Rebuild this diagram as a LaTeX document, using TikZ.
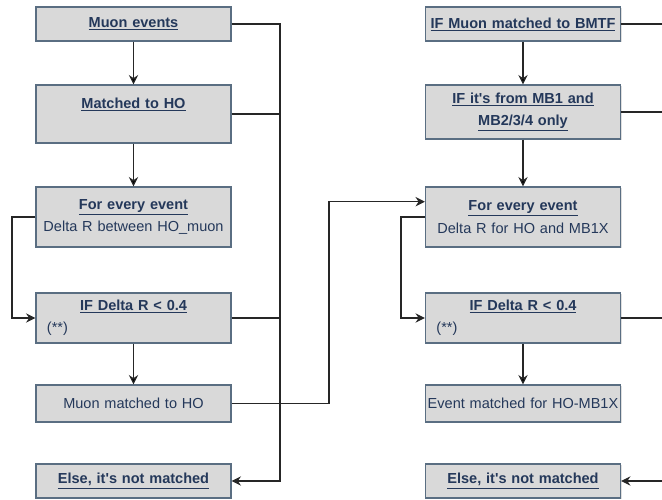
\documentclass[tikz,border=0pt]{standalone}
\usepackage{fontspec}
\setmainfont{Liberation Sans}
\usepackage{tikz}
\usetikzlibrary{arrows.meta}
\usetikzlibrary{calc, shadows}

\definecolor{boxfill}{HTML}{D9D9D9}
\definecolor{boxline}{HTML}{5A6E82}
\definecolor{boxtext}{HTML}{24385A}

\newcommand{\hd}[1]{\underline{\textbf{#1}}}
\newcommand{\aps}{\textquotesingle}

\tikzset{
    stepbox/.style={rectangle, draw=boxline, fill=boxfill, line width=1pt,
        text=boxtext, align=center, text width=5.85cm, inner xsep=0pt,
        minimum width=5.85cm,
        font=\fontsize{12.4}{19}\selectfont,
        drop shadow={shadow xshift=1.2pt, shadow yshift=-1.2pt, opacity=0.25}},
    link/.style={draw=black!85, line width=1pt},
    arr/.style={link, -{Stealth[length=8pt, width=8pt]}}
}

\begin{document}
\begin{tikzpicture}[x=0.03cm, y=-0.03cm]
\useasboundingbox (0,0) rectangle (662,500);
\begin{scope}
    % left column
    \node[stepbox, minimum height=1.02cm] (me) at (133.5,24) {\hd{Muon events}};
    \node[stepbox, minimum height=1.74cm] (mh) at (133.5,114) {\hd{Matched to HO}\\ \mbox{}};
    \node[stepbox, minimum height=1.8cm] (fe) at (133.5,217) {\hd{For every event}\\ Delta R between HO\_muon};
    \node[stepbox, minimum height=1.5cm] (ifl) at (133.5,318) {\hd{IF Delta R < 0.4}\\ \makebox[\linewidth][l]{\hspace{0.33cm}(**)}};
    \node[stepbox, minimum height=1.11cm] (mm) at (133.5,403.5) {Muon matched to HO};
    \node[stepbox, minimum height=1.02cm] (el) at (133.5,481) {\hd{Else, it\aps s not matched}};

    % right column
    \node[stepbox, minimum height=1.02cm] (mt) at (523,24) {\hd{IF Muon matched to BMTF}};
    \node[stepbox, minimum height=1.62cm] (mb) at (523,112) {\hd{IF it\aps s from MB1 and}\\ \hd{MB2/3/4 only}};
    \node[stepbox, minimum height=1.8cm] (fe2) at (523,217) {\hd{For every event}\\ Delta R for HO and MB1X};
    \node[stepbox, minimum height=1.5cm] (ifr) at (523,318) {\hd{IF Delta R < 0.4}\\ \makebox[\linewidth][l]{\hspace{0.33cm}(**)}};
    \node[stepbox, minimum height=1.11cm] (em) at (523,403.5) {Event matched for HO-MB1X};
    \node[stepbox, minimum height=1.02cm] (el2) at (523,481) {\hd{Else, it\aps s not matched}};

    \coordinate (busL) at (280,0);
    \coordinate (loopL) at (12,0);
    \coordinate (cross) at (329,0);
    \coordinate (loopR) at (401,0);
    \coordinate (edgeR) at (662,0);
\end{scope}

\begin{scope}
    \path [arr] (me) edge (mh);
    \path [arr] (mh) edge (fe);
    \path [arr] (ifl) edge (mm);
    \path [arr] (mt) edge (mb);
    \path [arr] (mb) edge (fe2);
    \path [arr] (ifr) edge (em);

    \draw [arr] (me.east) -- (me.east -| busL) -- (el.east -| busL) -- (el.east);
    \draw [link] (mh.east) -- (mh.east -| busL);
    \draw [link] (ifl.east) -- (ifl.east -| busL);
    \draw [arr] (fe.west) -- (fe.west -| loopL) -- (ifl.west -| loopL) -- (ifl.west);

    \draw [arr] (mm.east) -- (mm.east -| cross)
        |- ($(fe2.north west)!0.25!(fe2.south west)$);
    \draw [arr] (fe2.west) -- (fe2.west -| loopR) -- (ifr.west -| loopR) -- (ifr.west);

    \draw [link] (mt.east) -- (mt.east -| edgeR);
    \draw [link] (mb.east) -- (mb.east -| edgeR);
    \draw [link] (ifr.east) -- (ifr.east -| edgeR);
    \draw [arr] (el2.east -| edgeR) -- (el2.east);
\end{scope}
\end{tikzpicture}
\end{document}
